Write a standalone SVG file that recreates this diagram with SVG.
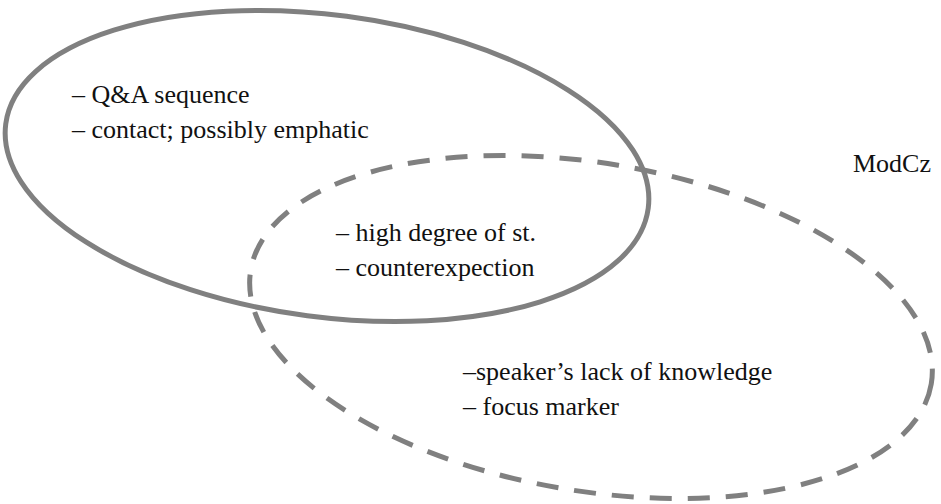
<svg xmlns="http://www.w3.org/2000/svg" width="941" height="504" viewBox="0 0 941 504">
<style>
.set{fill:none;stroke:#808080;stroke-width:5}
.dash{stroke-dasharray:22 16}
text{font-family:"Liberation Serif","DejaVu Serif",serif;font-size:26px;fill:#111}
</style>
<rect width="941" height="504" fill="#fff"/>
<g id="set-solid">
<ellipse class="set" cx="327" cy="166" rx="324" ry="151" transform="rotate(7.5 327 166)"/>
<text x="72" y="103">– Q&amp;A sequence</text>
<text x="72" y="138">– contact; possibly emphatic</text>
</g>
<g id="set-dashed">
<ellipse class="set dash" cx="591" cy="327" rx="345" ry="164" transform="rotate(9.5 591 327)"/>
<text x="463" y="380">–speaker’s lack of knowledge</text>
<text x="463" y="415">– focus marker</text>
</g>
<g id="intersection">
<text x="336" y="241">– high degree of st.</text>
<text x="336" y="276">– counterexpection</text>
</g>
<g id="label">
<text x="853" y="172">ModCz</text>
</g>
</svg>
